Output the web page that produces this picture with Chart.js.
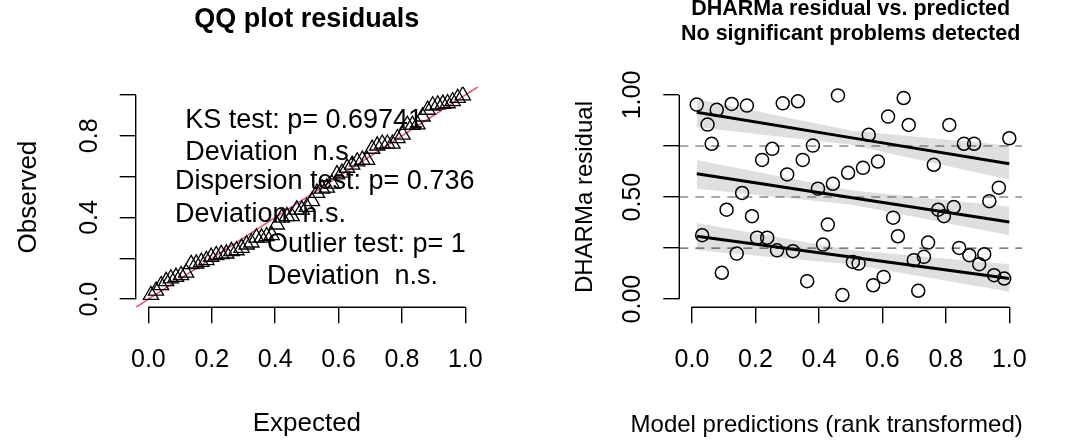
<!DOCTYPE html>
<html>
<head>
<meta charset="utf-8">
<script src="https://cdn.jsdelivr.net/npm/chart.js@4.4.1/dist/chart.umd.min.js"></script>
<style>
  html, body { margin: 0; padding: 0; background: #fff; }
  .panel { position: absolute; top: 0; width: 539px; height: 443px; }
</style>
</head>
<body>
<div class="panel" style="left:0"><canvas id="qq" width="539" height="443"></canvas></div>
<div class="panel" style="left:539px"><canvas id="res" width="539" height="443"></canvas></div>
<script>
const FONT = '"Liberation Sans", Arial, Helvetica, sans-serif';

// --- QQ plot: uniform quantiles vs sorted scaled residuals
const qqExpected = [0.008, 0.024, 0.040, 0.056, 0.071, 0.087, 0.103, 0.119, 0.135, 0.151,
  0.167, 0.183, 0.198, 0.214, 0.230, 0.246, 0.262, 0.278, 0.294, 0.310,
  0.325, 0.341, 0.357, 0.373, 0.389, 0.405, 0.421, 0.437, 0.452, 0.468,
  0.484, 0.500, 0.516, 0.532, 0.548, 0.563, 0.579, 0.595, 0.611, 0.627,
  0.643, 0.659, 0.675, 0.690, 0.706, 0.722, 0.738, 0.754, 0.770, 0.786,
  0.802, 0.817, 0.833, 0.849, 0.865, 0.881, 0.897, 0.913, 0.929, 0.944,
  0.960, 0.976, 0.992];
const qqObserved = [0.020, 0.041, 0.068, 0.088, 0.101, 0.109, 0.117, 0.129, 0.171, 0.174,
  0.182, 0.191, 0.207, 0.215, 0.220, 0.223, 0.235, 0.239, 0.251, 0.267,
  0.277, 0.301, 0.301, 0.308, 0.313, 0.365, 0.399, 0.406, 0.406, 0.438,
  0.438, 0.451, 0.480, 0.520, 0.541, 0.546, 0.565, 0.611, 0.619, 0.643,
  0.658, 0.674, 0.682, 0.682, 0.736, 0.752, 0.761, 0.761, 0.761, 0.788,
  0.805, 0.853, 0.853, 0.855, 0.894, 0.927, 0.948, 0.953, 0.956, 0.959,
  0.969, 0.985, 0.998];
const refLine = [-0.04, 1.04];
const unitTicks = [0, 0.2, 0.4, 0.6, 0.8, 1.0];
const qqYLabels = ["0.0", "", "0.4", "", "0.8", ""];
const testText = [
  { x: 0.116, y: 0.873, text: "KS test: p= 0.69741" },
  { x: 0.116, y: 0.717, text: "Deviation  n.s." },
  { x: 0.084, y: 0.578, text: "Dispersion test: p= 0.736" },
  { x: 0.084, y: 0.415, text: "Deviation  n.s." },
  { x: 0.374, y: 0.268, text: "Outlier test: p= 1" },
  { x: 0.374, y: 0.112, text: "Deviation  n.s." },
];

// --- residual vs predicted
const predRank = [0.015, 0.078, 0.125, 0.173, 0.049, 0.062, 0.286, 0.334, 0.460, 0.667,
  0.618, 0.683, 0.811, 0.557, 0.857, 0.889, 1.000, 0.253, 0.221, 0.349,
  0.381, 0.300, 0.158, 0.397, 0.444, 0.492, 0.539, 0.586, 0.762, 0.967,
  0.937, 0.109, 0.189, 0.634, 0.776, 0.794, 0.825, 0.032, 0.205, 0.237,
  0.428, 0.413, 0.649, 0.744, 0.141, 0.268, 0.318, 0.507, 0.525, 0.699,
  0.731, 0.842, 0.874, 0.921, 0.905, 0.952, 0.984, 0.094, 0.363, 0.474,
  0.571, 0.604, 0.713];
const residual = [0.953, 0.927, 0.956, 0.948, 0.855, 0.761, 0.959, 0.969, 0.998, 0.985,
  0.894, 0.853, 0.853, 0.805, 0.761, 0.761, 0.788, 0.736, 0.682, 0.682,
  0.752, 0.611, 0.520, 0.541, 0.565, 0.619, 0.643, 0.674, 0.658, 0.546,
  0.480, 0.438, 0.406, 0.399, 0.438, 0.406, 0.451, 0.313, 0.301, 0.301,
  0.365, 0.267, 0.308, 0.277, 0.223, 0.239, 0.235, 0.182, 0.174, 0.191,
  0.207, 0.251, 0.215, 0.220, 0.171, 0.117, 0.101, 0.129, 0.088, 0.020,
  0.068, 0.109, 0.041];
const quantX = [0.015, 0.5, 1.0];
const quantFit = { q75: [0.915, 0.791, 0.663], q50: [0.614, 0.498, 0.378], q25: [0.308, 0.206, 0.101] };
const quantHi = { q75: [0.980, 0.826, 0.752], q50: [0.682, 0.533, 0.454], q25: [0.373, 0.241, 0.171] };
const quantLo = { q75: [0.842, 0.756, 0.585], q50: [0.541, 0.463, 0.313], q25: [0.239, 0.171, 0.036] };
const hLines = [0.25, 0.5, 0.75];
const resTicks = [0, 0.25, 0.5, 0.75, 1.0];
const resYLabels = ["0.00", "", "0.50", "", "1.00"];

const xy = (xs, ys) => xs.map((x, i) => ({ x, y: ys[i] }));

// R-style axes: line only between first and last tick, rotated y labels, axis titles
const rAxes = {
  id: "rAxes",
  afterDraw(chart, args, o) {
    const { ctx, chartArea: a, scales: { x, y } } = chart;
    ctx.save();
    ctx.strokeStyle = "#000";
    ctx.lineWidth = 1.4;
    ctx.beginPath();
    ctx.moveTo(x.getPixelForValue(o.xTicks[0]), a.bottom);
    ctx.lineTo(x.getPixelForValue(o.xTicks[o.xTicks.length - 1]), a.bottom);
    ctx.moveTo(a.left, y.getPixelForValue(o.yTicks[0]));
    ctx.lineTo(a.left, y.getPixelForValue(o.yTicks[o.yTicks.length - 1]));
    ctx.stroke();
    ctx.fillStyle = "#000";
    ctx.textAlign = "center";
    ctx.textBaseline = "middle";
    ctx.font = `${o.size}px ${FONT}`;
    o.yTicks.forEach((v, i) => {
      if (!o.yLabels[i]) return;
      ctx.save();
      ctx.translate(a.left - o.gap, y.getPixelForValue(v));
      ctx.rotate(-Math.PI / 2);
      ctx.fillText(o.yLabels[i], 0, 0);
      ctx.restore();
    });
    ctx.font = `${o.titleSize}px ${FONT}`;
    ctx.fillText(o.xTitle, (a.left + a.right) / 2 + o.xTitleShift, o.xTitleY);
    ctx.save();
    ctx.translate(o.yTitleX, (a.top + a.bottom) / 2);
    ctx.rotate(-Math.PI / 2);
    ctx.fillText(o.yTitle, 0, 0);
    ctx.restore();
    ctx.restore();
  },
};

const rTitle = {
  id: "rTitle",
  afterDraw(chart, args, o) {
    const { ctx, chartArea: a } = chart;
    ctx.save();
    ctx.fillStyle = "#000";
    ctx.font = `bold ${o.size}px ${FONT}`;
    ctx.textAlign = "center";
    ctx.textBaseline = "middle";
    o.lines.forEach((t, i) => ctx.fillText(t, (a.left + a.right) / 2, o.y[i]));
    ctx.restore();
  },
};

const plotText = {
  id: "plotText",
  afterDatasetsDraw(chart, args, o) {
    const { ctx, scales: { x, y } } = chart;
    ctx.save();
    ctx.fillStyle = "#000";
    ctx.font = `${o.size}px ${FONT}`;
    ctx.textAlign = "left";
    ctx.textBaseline = "middle";
    o.items.forEach((t) => ctx.fillText(t.text, x.getPixelForValue(t.x), y.getPixelForValue(t.y)));
    ctx.restore();
  },
};

function baseScales(ticksX, ticksY, yWidth) {
  const tickGrid = { display: true, drawOnChartArea: false, drawTicks: true, tickLength: 16, color: "#000", lineWidth: 1.4 };
  return {
    x: {
      type: "linear", min: -0.04, max: 1.04,
      afterBuildTicks: (ax) => { ax.ticks = ticksX.map((v) => ({ value: v })); },
      afterFit: (s) => { s.height = 443 - 307.3; },
      grid: tickGrid, border: { display: false },
      ticks: { color: "#000", padding: 24, font: { family: FONT, size: 25, lineHeight: 1 }, callback: (v) => v.toFixed(1), maxRotation: 0, autoSkip: false },
    },
    y: {
      type: "linear", min: -0.04, max: 1.04,
      afterBuildTicks: (ax) => { ax.ticks = ticksY.map((v) => ({ value: v })); },
      afterFit: (s) => { s.width = yWidth; },
      grid: tickGrid, border: { display: false },
      ticks: { display: false },
    },
  };
}

const common = {
  responsive: false, animation: false, devicePixelRatio: 1, events: [],
  plugins: { legend: { display: false }, tooltip: { enabled: false } },
};

new Chart(document.getElementById("qq"), {
  type: "line",
  data: {
    datasets: [
      {
        data: xy(qqExpected, qqObserved), showLine: false,
        pointStyle: "triangle", pointRadius: 8.8, pointBorderWidth: 1.3,
        pointBorderColor: "#000", pointBackgroundColor: "rgba(0,0,0,0)",
      },
      { data: xy(refLine, refLine), borderColor: "#DF536B", borderWidth: 1.6, pointRadius: 0 },
    ],
  },
  plugins: [rAxes, rTitle, plotText],
  options: {
    ...common,
    layout: { padding: { left: 0, right: 61, top: 86.8, bottom: 0 } },
    scales: baseScales(unitTicks, unitTicks, 135.7),
    plugins: {
      ...common.plugins,
      rAxes: {
        xTicks: unitTicks, yTicks: unitTicks, yLabels: qqYLabels, size: 25, gap: 46,
        titleSize: 26, xTitle: "Expected", xTitleShift: 0, xTitleY: 424, yTitle: "Observed", yTitleX: 29,
      },
      rTitle: { lines: ["QQ plot residuals"], y: [20], size: 27 },
      plotText: { items: testText, size: 27 },
    },
  },
});

const bandStyle = { borderWidth: 0, pointRadius: 0, backgroundColor: "rgba(0,0,0,0.125)" };
const fitStyle = { borderColor: "#000", borderWidth: 3, pointRadius: 0 };
const dashStyle = { borderColor: "#555", borderWidth: 1.1, borderDash: [9, 7], pointRadius: 0 };

new Chart(document.getElementById("res"), {
  type: "line",
  data: {
    datasets: [
      {
        data: xy(predRank, residual), showLine: false,
        pointStyle: "circle", pointRadius: 6.5, pointBorderWidth: 1.5,
        pointBorderColor: "#000", pointBackgroundColor: "rgba(0,0,0,0)",
      },
      { data: xy(quantX, quantFit.q75), ...fitStyle },
      { data: xy(quantX, quantFit.q50), ...fitStyle },
      { data: xy(quantX, quantFit.q25), ...fitStyle },
      ...hLines.map((h) => ({ data: xy(refLine, [h, h]), ...dashStyle })),
      { data: xy(quantX, quantHi.q75), ...bandStyle, fill: "+1" },
      { data: xy(quantX, quantLo.q75), ...bandStyle, fill: false },
      { data: xy(quantX, quantHi.q50), ...bandStyle, fill: "+1" },
      { data: xy(quantX, quantLo.q50), ...bandStyle, fill: false },
      { data: xy(quantX, quantHi.q25), ...bandStyle, fill: "+1" },
      { data: xy(quantX, quantLo.q25), ...bandStyle, fill: false },
    ],
  },
  plugins: [rAxes, rTitle],
  options: {
    ...common,
    layout: { padding: { left: 0, right: 56, top: 86.8, bottom: 0 } },
    scales: baseScales(unitTicks, resTicks, 140.3),
    plugins: {
      ...common.plugins,
      rAxes: {
        xTicks: unitTicks, yTicks: resTicks, yLabels: resYLabels, size: 25, gap: 46,
        titleSize: 24, xTitle: "Model predictions (rank transformed)", xTitleShift: -24, xTitleY: 425,
        yTitle: "DHARMa residual", yTitleX: 46,
      },
      rTitle: { lines: ["DHARMa residual vs. predicted", "No significant problems detected"], y: [9, 34], size: 21.5 },
    },
  },
});
</script>
</body>
</html>
